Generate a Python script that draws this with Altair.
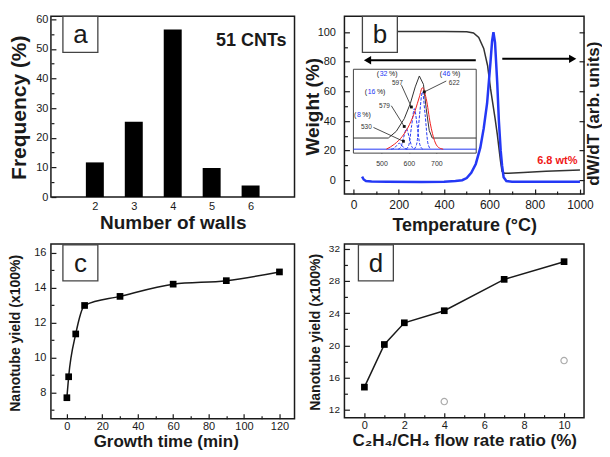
import altair as alt
import pandas as pd

FONT = "Liberation Sans"
INK = "#1a1a1a"

# ---------------- data ----------------
# (a) wall-number histogram
walls = [2, 3, 4, 5, 6]
freq_pct = [11.7, 25.4, 56.6, 9.8, 3.9]

# (b) TGA weight curve and DTG curve
tga_temp = [190, 400, 500, 530, 553, 575, 592, 605, 612, 625, 635, 649, 656, 665, 685, 750, 850, 1000]
tga_weight = [100.5, 100.5, 100.3, 99.5, 96.5, 89, 77.5, 62, 55, 42, 31, 13, 6, 4.8, 4.7, 5.2, 6, 7]
dtg_temp = [38, 45, 55, 80, 150, 300, 400, 450, 480, 500, 520, 540, 560, 575, 590, 605, 612,
            618, 625, 635, 642, 650, 656, 663, 675, 700, 800, 1000]
dtg_signal = [2.5, 0.5, -0.5, -0.8, -1, -1.2, -1, -0.5, 0, 1.5, 5, 11, 22, 35, 52, 80, 94,
              100, 93, 65, 40, 20, 10, 2, -0.5, -1, -1, -1]
arrow_tail = [540, 657]
arrow_tip = [62, 968]
arrow_level = [81, 82]
arrow_shape = ["triangle-left", "triangle-right"]
residue_label = ["6.8 wt%"]

# (b) inset: DTG peak deconvolution
inset_total_T = [398, 525, 554, 583, 605, 623, 638, 653, 663, 674, 685, 845]
inset_total_v = [18, 18, 26, 41, 59, 79, 92, 82, 53, 27, 18, 18]
inset_fit_T = [518, 547, 576, 602, 623, 638, 649, 663, 678, 693, 707, 725]
inset_fit_v = [4.7, 10.6, 20, 34, 51, 67, 78, 65, 35, 15, 7, 4.7]
inset_base_T = [398, 845]
inset_base_v = [4.7, 4.7]
comp_name = ["c1"] * 7 + ["c2"] * 7 + ["c3"] * 7 + ["c4"] * 7
comp_T = [535, 545, 555, 565, 575, 585, 595,
          561, 571, 581, 591, 601, 611, 621,
          590, 600, 610, 620, 630, 640, 650,
          619, 629, 639, 649, 659, 669, 679]
comp_v = [4.7, 5.5, 8.9, 11.7, 8.9, 5.5, 4.7,
          4.7, 7.5, 19, 29, 19, 7.5, 4.7,
          4.7, 10, 33, 53, 33, 10, 4.7,
          4.7, 12, 46, 73, 46, 12, 4.7]
pct_num = ["8", "16", "32", "46"]
pct_T = [425, 478, 522, 751]
pct_v = [45, 73, 94, 94]
peak_text = ["530", "579", "597", "622"]
peak_T = [445, 511, 558, 765]
peak_v = [31, 56.5, 83.5, 83.5]
lead_T1 = [471, 536, 573, 736]
lead_v1 = [30.6, 56.5, 81, 86]
lead_T2 = [580, 583, 609, 656]
lead_v2 = [14.1, 31.8, 55, 73]

# (c) yield vs growth time
growth_time = [0, 1, 5, 10, 30, 60, 90, 120]
yield_time = [7.7, 8.9, 11.35, 12.98, 13.5, 14.2, 14.4, 14.9]

# (d) yield vs C2H4/CH4 ratio
ratio = [0, 1, 2, 4, 7, 10]
yield_ratio = [14.8, 20.1, 22.8, 24.3, 28.2, 30.4]
ratio_open = [4, 10]
yield_open = [13.0, 18.1]


# ---------------- helpers ----------------
def axis(title=None, *, values=None, major=None, labels=True, ticks=True, lfs=11, gap=3,
         tfs=16, tx=0, ty=0, orient=None, tangle=None):
    kw = dict(domain=False, grid=False, labelFont=FONT, labelFontSize=lfs, labelColor=INK,
              tickColor=INK, tickWidth=1.2, labels=labels, ticks=ticks, format="d")
    if title is not None:
        kw.update(title=title, titleFont=FONT, titleFontSize=tfs, titleFontWeight="bold",
                  titleColor=INK, titleX=tx, titleY=ty, titleAlign="center",
                  titleBaseline="middle")
    else:
        kw["title"] = None
    if values is not None:
        kw["values"] = values
    if ticks and major:
        kw["tickSize"] = alt.ExprRef(expr=f"datum.value % {major} === 0 ? -5 : -3")
        kw["labelExpr"] = f"datum.value % {major} === 0 ? datum.label : ''"
        kw["labelPadding"] = gap + 5
    else:
        kw["labelPadding"] = gap
    if orient:
        kw["orient"] = orient
    if tangle is not None:
        kw["titleAngle"] = tangle
    return alt.Axis(**kw)


def panel_label(letter, x0, y0, w=35, h=36, fs=26):
    d = pd.DataFrame({"t": [letter]})
    box = alt.Chart(d).mark_rect(fill="white", stroke="#444", strokeWidth=1.3).encode(
        x=alt.value(x0), x2=alt.value(x0 + w), y=alt.value(y0), y2=alt.value(y0 + h))
    txt = alt.Chart(d).mark_text(font=FONT, fontSize=fs, color=INK, baseline="middle").encode(
        text="t:N", x=alt.value(x0 + w / 2), y=alt.value(y0 + h / 2 + 1))
    return alt.layer(box, txt)


# ---------------- panel a ----------------
df_a = pd.DataFrame({"walls": walls, "freq": freq_pct})
a_bars = alt.Chart(df_a).mark_bar(size=18, color="black").encode(
    x=alt.X("walls:Q", scale=alt.Scale(domain=[1, 7], nice=False, zero=False),
            axis=axis("Number of walls", values=walls, ticks=False, lfs=11, gap=3, tfs=19,
                      tx=122, ty=25)),
    y=alt.Y("freq:Q", scale=alt.Scale(domain=[0, 61], nice=False),
            axis=axis("Frequency (%)", values=list(range(0, 61, 5)), major=10, lfs=11, gap=3,
                      tfs=21, tx=-31, ty=91)),
)
a_note = alt.Chart(pd.DataFrame({"t": ["51 CNTs"]})).mark_text(
    font=FONT, fontSize=18, fontWeight="bold", color=INK, align="right", baseline="middle"
).encode(text="t:N", x=alt.value(236), y=alt.value(25))
panel_a = alt.layer(a_bars, a_note, panel_label("a", 12, 0)).properties(width=244, height=181)

# ---------------- panel b ----------------
bx_scale = alt.Scale(domain=[-40, 1018], nice=False, zero=False)
by_scale = alt.Scale(domain=[-9.33, 110.67], nice=False, zero=False)
bX = alt.X("T:Q", scale=bx_scale,
           axis=axis("Temperature (°C)", values=list(range(0, 1001, 100)), major=200, lfs=12,
                     gap=5, tfs=18, tx=120, ty=32))
bY_left = alt.Y("w:Q", scale=by_scale,
                axis=axis("Weight (%)", values=list(range(0, 101, 10)), major=20, lfs=11,
                          gap=9, tfs=19, tx=-32, ty=90))
bY_right = alt.Y("w:Q", scale=by_scale,
                 axis=axis("dW/dT (arb. units)", values=list(range(0, 101, 20)), major=20,
                           labels=False, tfs=17, tx=9, ty=97, orient="right", tangle=270))
bY_none = alt.Y("w:Q", scale=by_scale, axis=None)

df_tga = pd.DataFrame({"T": tga_temp, "w": tga_weight})
df_dtg = pd.DataFrame({"T": dtg_temp, "w": dtg_signal})
tga = alt.Chart(df_tga).mark_line(color="#333", strokeWidth=1.5).encode(x=bX, y=bY_left)
dtg = alt.Chart(df_dtg).mark_line(color="#2438f5", strokeWidth=2.5).encode(x=bX, y=bY_right)

df_arr = pd.DataFrame({"T": arrow_tip, "T2": arrow_tail, "w": arrow_level, "shape": arrow_shape})
arr_line = alt.Chart(df_arr).mark_rule(color="black", strokeWidth=2).encode(
    x=bX, x2="T2:Q", y=bY_none)
arr_head = alt.Chart(df_arr).mark_point(filled=True, color="black", size=70, opacity=1).encode(
    x=bX, y=bY_none, shape=alt.Shape("shape:N", scale=None))
df_note = pd.DataFrame({"T": [900], "w": [13], "t": residue_label})
b_note = alt.Chart(df_note).mark_text(font=FONT, fontSize=11, fontWeight="bold",
                                       color="#f01818").encode(x=bX, y=bY_none, text="t:N")
b_main = alt.layer(tga, dtg, arr_line, arr_head, b_note, panel_label("b", 18, 0)).resolve_axis(
    y="independent")

# inset
ix_scale = alt.Scale(domain=[398, 845], range=[9, 132], nice=False, zero=False)
iy_scale = alt.Scale(domain=[0, 100], range=[137, 53], nice=False, zero=False)
inset_axis = alt.Axis(values=[500, 600, 700], orient="bottom", offset=-41, title=None,
                      domain=False, grid=False, labelFont=FONT, labelFontSize=7,
                      labelColor="#333", tickColor="#333",
                      tickSize=alt.ExprRef(expr="-2"), labelPadding=8)
ix = alt.X("T:Q", scale=ix_scale, axis=inset_axis)
iy = alt.Y("v:Q", scale=iy_scale, axis=None)
ibox = alt.Chart(pd.DataFrame({"T": [398], "T2": [845], "v": [0], "v2": [100]})).mark_rect(
    fill="white", stroke="#444", strokeWidth=1).encode(x=ix, x2="T2:Q", y=iy, y2="v2:Q")
i_total = alt.Chart(pd.DataFrame({"T": inset_total_T, "v": inset_total_v})).mark_line(
    color="#333", strokeWidth=1).encode(x=ix, y=iy)
i_base = alt.Chart(pd.DataFrame({"T": inset_base_T, "v": inset_base_v})).mark_line(
    color="#2438f5", strokeWidth=1).encode(x=ix, y=iy)
i_comp = alt.Chart(pd.DataFrame({"c": comp_name, "T": comp_T, "v": comp_v})).mark_line(
    color="#2438f5", strokeWidth=1, strokeDash=[3, 1.5], interpolate="monotone").encode(
    x=ix, y=iy, detail="c:N")
i_fit = alt.Chart(pd.DataFrame({"T": inset_fit_T, "v": inset_fit_v})).mark_line(
    color="#f02020", strokeWidth=1, interpolate="monotone").encode(x=ix, y=iy)
df_lead = pd.DataFrame({"T": lead_T1, "v": lead_v1, "T2": lead_T2, "v2": lead_v2})
i_lead = alt.Chart(df_lead).mark_rule(color="#222", strokeWidth=0.8).encode(
    x=ix, y=iy, x2="T2:Q", y2="v2:Q")
df_dot = pd.DataFrame({"T": lead_T2, "v": lead_v2})
i_dot = alt.Chart(df_dot).mark_square(color="#111", size=8, opacity=1).encode(x=ix, y=iy)
# "(N %)" labels: blue number anchored at its right end, black brackets around it
df_pct = pd.DataFrame({"T": pct_T, "v": pct_v, "n": pct_num})
pct_base = alt.Chart(df_pct)
i_num = pct_base.mark_text(font=FONT, fontSize=7, color="#2438f5", align="right",
                           baseline="middle").encode(x=ix, y=iy, text="n:N")
i_suffix = pct_base.mark_text(font=FONT, fontSize=7, color="#222", align="left",
                              baseline="middle", dx=1.5).encode(x=ix, y=iy,
                                                                 text=alt.value("%)"))
i_pre1 = pct_base.transform_filter("length(datum.n) == 1").mark_text(
    font=FONT, fontSize=7, color="#222", align="right", baseline="middle", dx=-4.4).encode(
    x=ix, y=iy, text=alt.value("("))
i_pre2 = pct_base.transform_filter("length(datum.n) == 2").mark_text(
    font=FONT, fontSize=7, color="#222", align="right", baseline="middle", dx=-8.3).encode(
    x=ix, y=iy, text=alt.value("("))
i_peak = alt.Chart(pd.DataFrame({"T": peak_T, "v": peak_v, "t": peak_text})).mark_text(
    font=FONT, fontSize=6.5, color="#333", baseline="middle").encode(x=ix, y=iy, text="t:N")
b_inset = alt.layer(ibox, i_total, i_base, i_comp, i_fit, i_lead, i_dot, i_num, i_suffix,
                    i_pre1, i_pre2, i_peak)

panel_b = alt.layer(b_main, b_inset).resolve_scale(x="independent", y="independent").properties(
    width=240, height=178)

# ---------------- panel c ----------------
df_c = pd.DataFrame({"t": growth_time, "y": yield_time})
cx = alt.X("t:Q", scale=alt.Scale(domain=[-9, 128.5], nice=False, zero=False),
           axis=axis("Growth time (min)", values=list(range(0, 121, 10)), major=20, lfs=11,
                     gap=2, tfs=17, tx=115, ty=23))
cy = alt.Y("y:Q", scale=alt.Scale(domain=[6.5, 16.5], nice=False, zero=False),
           axis=axis("Nanotube yield (x100%)", values=list(range(7, 17)), major=2, lfs=11,
                     gap=5, tfs=14, tx=-35, ty=89))
c_line = alt.Chart(df_c).mark_line(interpolate="monotone", color=INK, strokeWidth=1.5).encode(
    x=cx, y=cy)
c_pts = alt.Chart(df_c).mark_square(size=45, color="black", opacity=1).encode(x=cx, y=cy)
panel_c = alt.layer(c_line, c_pts, panel_label("c", 12, 1)).properties(width=244, height=175)

# ---------------- panel d ----------------
dxs = alt.Scale(domain=[-1, 11], nice=False, zero=False)
dys = alt.Scale(domain=[11, 32.6], nice=False, zero=False)
dx = alt.X("r:Q", scale=dxs,
           axis=axis("C₂H₄/CH₄ flow rate ratio (%)", values=list(range(0, 11)), major=2,
                     lfs=11, gap=2, tfs=17, tx=120, ty=23))
dy = alt.Y("y:Q", scale=dys,
           axis=axis("Nanotube yield (x100%)", values=list(range(12, 33, 2)), major=4, lfs=10,
                     gap=5, tfs=14, tx=-29, ty=88))
df_d = pd.DataFrame({"r": ratio, "y": yield_ratio})
d_line = alt.Chart(df_d).mark_line(color=INK, strokeWidth=1.5).encode(x=dx, y=dy)
d_pts = alt.Chart(df_d).mark_square(size=45, color="black", opacity=1).encode(x=dx, y=dy)
d_open = alt.Chart(pd.DataFrame({"r": ratio_open, "y": yield_open})).mark_point(
    shape="circle", filled=False, color="#888", size=40, strokeWidth=1.2).encode(x=dx, y=dy)
panel_d = alt.layer(d_line, d_pts, d_open, panel_label("d", 14, 1)).properties(
    width=240, height=174)

# ---------------- assemble ----------------
chart = alt.concat(panel_a, panel_b, panel_c, panel_d, columns=2, bounds="flush",
                   spacing={"row": 47, "column": 50}).properties(
    padding={"left": 0, "top": 4, "right": 0, "bottom": 0}, background="white"
).configure_view(stroke=INK, strokeWidth=1.5)

chart.save("out.html", embed_options={"renderer": "svg", "actions": False})
